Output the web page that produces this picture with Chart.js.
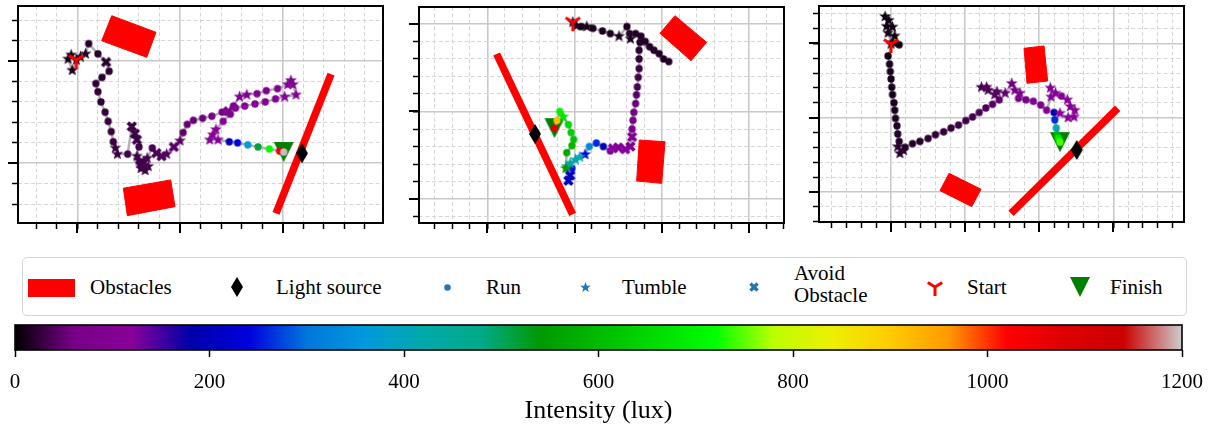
<!DOCTYPE html>
<html>
<head>
<meta charset="utf-8">
<script src="https://cdn.jsdelivr.net/npm/chart.js"></script>
<style>
  html, body { margin: 0; padding: 0; background: #fff; }
  #page { position: relative; width: 1209px; height: 429px; overflow: hidden; font-family: 'Liberation Serif', 'Times New Roman', serif; }
  #page canvas { position: absolute; }
  #legend { position: absolute; left: 22px; top: 257px; width: 1165px; height: 59px; border: 1.5px solid #d6d6d6; border-radius: 5px; box-sizing: border-box; background: #fff; }
  .lab { position: absolute; font-size: 21px; line-height: 24px; color: #000; white-space: nowrap; }
  .lab2 { line-height: 22px; }
  .swatch { position: absolute; background: #ff0000; }
</style>
</head>
<body>
<div id="page">
  <canvas id="p1"></canvas>
  <canvas id="p2"></canvas>
  <canvas id="p3"></canvas>
  <div id="legend"></div>
  <canvas id="cbar"></canvas>
</div>
<script>
// ---- data: run 1 (left panel) ----
const p1X = [-0.01,-0.06,-0.09,-0.05,0.03,0.08,0.11,0.20,0.28,0.31, 0.24,0.18,0.20,0.23,0.27,0.30,0.33,0.35,0.37,0.39,
  0.49,0.53,0.56,0.58,0.60,0.58,0.61,0.66,0.62,0.60,0.65,0.69,0.63,0.68, 0.73,0.77,0.82,0.87,0.94,1.00,1.03,1.07,1.13,1.22,
  1.31,1.41,1.47,1.52,1.58,1.65,1.75,1.84,1.95,2.05, 2.08,2.10,2.13,2.02,1.93,1.83,1.73,1.63,1.54,1.49,
  1.42,1.35,1.32,1.29,1.37,1.48,1.56,1.66,1.76,1.87, 1.97,2.01];
const p1Y = [1.01,1.06,1.02,0.91,1.04,1.07,1.17,1.07,0.99,0.90, 0.84,0.78,0.70,0.60,0.50,0.41,0.31,0.21,0.15,0.09,
  0.09,0.36,0.29,0.23,0.16,0.07,0.00,-0.07,-0.05,0.03,0.02,-0.03,-0.03,0.05, 0.15,0.10,0.07,0.09,0.16,0.22,0.30,0.38,0.42,0.44,
  0.46,0.50,0.51,0.56,0.65,0.67,0.68,0.71,0.73,0.77, 0.81,0.77,0.67,0.65,0.63,0.60,0.58,0.56,0.54,0.48,
  0.41,0.33,0.28,0.23,0.23,0.21,0.20,0.18,0.16,0.14, 0.12,0.11];
const p1Lux = [12,12,12,14,15,16,18,20,22,22, 22,24,24,25,26,27,28,28,28,28,
  30,30,30,30,32,32,32,32,32,32,32,33,32,34, 36,38,40,42,44,46,48,50,53,56,
  60,64,68,72,76,80,84,88,92,96, 100,102,104,105,106,108,108,110,110,112,
  114,116,118,118,120,190,240,360,515,715, 1060,1195];
// r = run, t = tumble, a = avoid obstacle
const p1Mode = 'ttttttrrar' + 'rrrrrrrrtt' + 'raaar' + 'ttttttttt' + 'raatatrrrr' + 'rrarttrrrt' + 'ttttrrrrrr' + 'rttttrrrrr' + 'rr';
const p1Obstacles = [
  [[0.335,1.443],[0.766,1.281],[0.676,1.036],[0.237,1.198]],
  [[0.448,-0.244],[0.909,-0.163],[0.951,-0.424],[0.487,-0.512]]
];
const p1Wall = [[1.935,-0.489],[2.471,0.873]];
const p1Light = [2.188,0.098];

// ---- data: run 2 (middle panel) ----
const p2X = [0.98,1.02,1.08,1.14,1.21,1.32,1.41,1.51,1.60,1.63, 1.64,1.70,1.76,1.81,1.86,1.91,1.97,2.02,2.08,1.75,
  1.74,1.74,1.74,1.73,1.72,1.71,1.70,1.68,1.67,1.66, 1.66,1.64,1.58,1.50,1.44,1.41,1.33,1.25,1.17,1.12,
  1.06,1.01,0.95,0.91,0.97,0.95,0.93,0.90,0.91,0.97, 0.99,0.96,0.93,0.87,0.83,0.80,0.77];
const p2Y = [2.02,1.98,1.97,1.97,1.95,1.92,1.89,1.86,1.97,1.89, 1.83,1.89,1.86,1.80,1.74,1.70,1.66,1.60,1.57,1.79,
  1.70,1.60,1.49,1.39,1.28,1.19,1.09,0.99,0.90,0.80, 0.71,0.60,0.57,0.59,0.58,0.55,0.60,0.64,0.60,0.51,
  0.48,0.45,0.41,0.37,0.35,0.27,0.21,0.35,0.53,0.61, 0.68,0.76,0.85,0.94,1.00,0.90,0.81];
const p2Lux = [12,12,12,14,14,15,15,16,16,16, 16,17,17,18,18,18,18,18,18,20,
  22,26,30,34,38,44,50,58,66,76, 90,100,108,114,118,125,190,262,330,245,
  410,420,440,450,250,220,200,540,560,590, 610,630,645,665,700,915,1080];
const p2Mode = 'ttrtrrrtrr' + 'trrrrrrrrr' + 'rrrrrrrrrr' + 'aaaaarrrrt' + 'ttttraatrr' + 'rrrtrrr';
const p2Obstacles = [
  [[2.151,2.095],[2.514,1.790],[2.335,1.581],[1.979,1.893]],
  [[1.742,0.674],[2.037,0.655],[1.999,0.179],[1.712,0.206]]
];
const p2Wall = [[0.107,1.657],[0.978,-0.175]];
const p2Light = [0.546,0.743];

// ---- data: run 3 (right panel) ----
const p3X = [0.00,-0.08,-0.03,-0.06,0.02,-0.04,0.05,0.11,0.03,-0.04, -0.02,-0.01,0.00,0.01,0.02,0.04,0.05,0.06,0.08,0.09,
  0.11,0.09,0.12,0.17,0.19,0.29,0.39,0.50,0.60,0.71, 0.81,0.91,1.01,1.10,1.19,1.28,1.37,1.46,1.40,1.31,
  1.22,1.29,1.43,1.54,1.63,1.67,1.74,1.72,1.82,1.92, 2.02,2.10,2.16,2.15,2.22,2.30,2.38,2.42,2.48,2.47,
  2.39,2.28,2.20,2.21,2.23,2.24,2.26,2.28];
const p3Y = [1.99,2.36,2.31,2.23,2.22,2.14,2.10,1.98,2.01,1.83, 1.72,1.62,1.52,1.41,1.31,1.20,1.10,0.99,0.89,0.78,
  0.68,0.61,0.52,0.56,0.60,0.65,0.68,0.72,0.77,0.81, 0.86,0.90,0.96,1.01,1.07,1.13,1.18,1.24,1.31,1.37,
  1.41,1.41,1.35,1.33,1.46,1.37,1.33,1.26,1.24,1.22, 1.17,1.10,1.28,1.40,1.33,1.29,1.24,1.15,1.10,1.01,
  1.00,1.06,1.07,0.97,0.86,0.77,0.72,0.67];
const p3Lux = [6,6,6,7,7,8,8,9,9,10, 10,11,11,12,12,13,14,15,16,17,
  18,20,20,20,18,18,20,22,24,26, 28,30,32,35,38,40,44,48,40,38,
  36,38,42,48,58,62,66,72,78,86, 94,100,104,108,110,112,114,116,118,120,
  118,120,185,262,410,580,690,742];
const p3Mode = 'tttttttrtr' + 'rrrrrrrrrr' + 'rtttrrrrrr' + 'rrrrrrrrtt' + 'tttttttrrr' + 'rrtttrtttt' + 'ttrrrrrr';
const p3Obstacles = [
  [[1.795,1.933],[2.065,1.964],[2.114,1.493],[1.835,1.462]],
  [[0.783,0.251],[1.215,0.036],[1.089,-0.197],[0.661,0.018]]
];
const p3Wall = [[1.619,-0.287],[3.059,1.126]];
const p3Light = [2.506,0.565];

// colour bar
const LUX_MAX = 1200;
const CB_TICKS = [0, 200, 400, 600, 800, 1000, 1200];

// nipy_spectral colormap nodes (21 evenly spaced stops)
const NIPY_R = [0,0.4667,0.5333,0,0,0,0,0,0,0,0,0,0,0.7333,0.9333,1,1,1,0.8667,0.8,0.8];
const NIPY_G = [0,0,0,0,0,0.4667,0.6,0.6667,0.6667,0.6,0.7333,0.8667,1,1,0.9333,0.8,0.6,0,0,0,0.8];
const NIPY_B = [0,0.5333,0.6,0.6667,0.8667,0.8667,0.8667,0.6667,0.5333,0,0,0,0,0,0,0,0,0,0,0,0.8];

const SERIF = "'Liberation Serif', 'Times New Roman', serif";
const TAB_BLUE = '#1f77b4';
const SIZE = { r: 7.3, t: 12.5, a: 10.5 };

function luxColor(lux) {
  const t = Math.min(Math.max(lux / LUX_MAX, 0), 1) * 20;
  const k = Math.min(Math.floor(t), 19), f = t - k;
  const ch = arr => Math.round((arr[k] + (arr[k + 1] - arr[k]) * f) * 255);
  return 'rgb(' + ch(NIPY_R) + ',' + ch(NIPY_G) + ',' + ch(NIPY_B) + ')';
}

// marker images (matplotlib-like shapes), cached per shape/colour/size
const markerCache = {};
function marker(shape, color, size) {
  const key = shape + '|' + color + '|' + size;
  if (markerCache[key]) return markerCache[key];
  const w = Math.ceil(size + 6);
  const cv = document.createElement('canvas');
  cv.width = w; cv.height = w;
  const g = cv.getContext('2d');
  g.translate(w / 2, w / 2);
  const r = size / 2;
  g.fillStyle = color;
  g.strokeStyle = color;
  g.beginPath();
  if (shape === 'r') {
    g.arc(0, 0, r, 0, Math.PI * 2);
    g.fill();
  } else if (shape === 't') {
    for (let k = 0; k < 10; k++) {
      const ang = -Math.PI / 2 + k * Math.PI / 5;
      const rr = k % 2 ? r * 0.42 : r;
      g.lineTo(Math.cos(ang) * rr, Math.sin(ang) * rr);
    }
    g.closePath(); g.fill();
  } else if (shape === 'a') {
    const pts = [[0.25,0],[0.5,0.25],[0.75,0],[1,0.25],[0.75,0.5],[1,0.75],[0.75,1],[0.5,0.75],[0.25,1],[0,0.75],[0.25,0.5],[0,0.25]];
    pts.forEach(([px, py]) => g.lineTo((px - 0.5) * size, (py - 0.5) * size));
    g.closePath(); g.fill();
  } else if (shape === 'start') {
    g.lineWidth = 3;
    g.moveTo(0, 0); g.lineTo(0, r);
    g.moveTo(0, 0); g.lineTo(0.8 * r, -0.5 * r);
    g.moveTo(0, 0); g.lineTo(-0.8 * r, -0.5 * r);
    g.stroke();
  } else if (shape === 'finish') {
    g.moveTo(0, r); g.lineTo(-r, -r); g.lineTo(r, -r); g.closePath(); g.fill();
  } else if (shape === 'light') {
    g.moveTo(0, -r); g.lineTo(0.6 * r, 0); g.lineTo(0, r); g.lineTo(-0.6 * r, 0); g.closePath(); g.fill();
  }
  markerCache[key] = cv;
  return cv;
}

const isMajor = v => Math.abs(v - Math.round(v)) < 1e-6;
function gridTicks(min, max) {
  const out = [];
  for (let k = Math.ceil(min / 0.2 - 1e-9); k * 0.2 <= max + 1e-9; k++) out.push({ value: +(k * 0.2).toFixed(2) });
  return out;
}

// frame + longer major tick marks
const frameDeco = {
  id: 'frameDeco',
  afterDraw(chart, args, opts) {
    const { ctx, chartArea: a } = chart;
    ctx.save();
    ctx.strokeStyle = '#000';
    if (opts.majorTicks) {
      const xs = chart.scales.x, ys = chart.scales.y;
      ctx.lineWidth = 2;
      ctx.beginPath();
      xs.ticks.forEach(t => {
        if (!isMajor(t.value)) return;
        const p = Math.round(xs.getPixelForValue(t.value));
        ctx.moveTo(p, a.bottom); ctx.lineTo(p, a.bottom + 10);
      });
      ys.ticks.forEach(t => {
        if (!isMajor(t.value)) return;
        const p = Math.round(ys.getPixelForValue(t.value));
        ctx.moveTo(a.left - 10, p); ctx.lineTo(a.left, p);
      });
      ctx.stroke();
    }
    ctx.lineWidth = opts.width || 2;
    ctx.strokeRect(a.left, a.top, a.right - a.left, a.bottom - a.top);
    ctx.restore();
  }
};

function axisOpts(pos, min, max, fix) {
  return {
    type: 'linear', position: pos, min, max,
    afterBuildTicks: s => { s.ticks = gridTicks(min, max); },
    afterFit: s => {
      if (pos === 'left') s.width = fix; else s.height = fix;
      s.paddingLeft = s.paddingRight = s.paddingTop = s.paddingBottom = 0;
    },
    ticks: { display: false, autoSkip: false },
    border: { display: false, dash: c => (c.tick && !isMajor(c.tick.value)) ? [4, 2.5] : [] },
    grid: {
      color: c => (c.tick && !isMajor(c.tick.value)) ? '#d6d6d6' : '#c9c9c9',
      lineWidth: c => (c.tick && !isMajor(c.tick.value)) ? 1 : 1.6,
      drawTicks: true, tickLength: 6, tickColor: '#000', tickWidth: 1.5
    }
  };
}

function drawPanel(p) {
  const cv = document.getElementById(p.id);
  cv.width = p.cv.w; cv.height = p.cv.h;
  cv.style.left = p.cv.x + 'px'; cv.style.top = p.cv.y + 'px';
  cv.style.width = p.cv.w + 'px'; cv.style.height = p.cv.h + 'px';
  const n = p.X.length;
  const ds = [];
  p.obs.forEach(poly => ds.push({
    type: 'line', data: poly.concat([poly[0]]).map(([x, y]) => ({ x, y })),
    fill: 'shape', backgroundColor: '#ff0000', borderColor: '#ff0000', borderWidth: 1,
    pointRadius: 0, tension: 0, order: 20
  }));
  ds.push({
    type: 'line', data: p.wall.map(([x, y]) => ({ x, y })), borderColor: '#ff0000',
    borderWidth: 7.5, borderCapStyle: 'butt', pointRadius: 0, fill: false, order: 19
  });
  ds.push({ type: 'scatter', data: [{ x: p.light[0], y: p.light[1] }], pointStyle: marker('light', '#000000', 20), pointRadius: 5, order: 18 });
  ds.push({ type: 'scatter', data: [{ x: p.X[n - 1], y: p.Y[n - 1] }], pointStyle: marker('finish', '#008000', 20), pointRadius: 5, order: 17 });
  ds.push({
    type: 'line', data: p.X.map((x, i) => ({ x, y: p.Y[i] })), borderColor: '#b4b4b4',
    borderWidth: 2.5, pointRadius: 0, fill: false, tension: 0, order: 16
  });
  ['r', 't', 'a'].forEach((m, k) => {
    const data = [];
    p.X.forEach((x, i) => { if (p.M[i] === m) data.push({ x, y: p.Y[i], lux: p.L[i] }); });
    ds.push({
      type: 'scatter', data, order: 15 - k, pointRadius: 3,
      pointStyle: c => marker(m, luxColor(c.raw ? c.raw.lux : 0), SIZE[m])
    });
  });
  ds.push({ type: 'scatter', data: [{ x: p.X[0], y: p.Y[0] }], pointStyle: marker('start', '#ff0000', 18), pointRadius: 5, order: 1 });

  new Chart(cv, {
    type: 'scatter',
    data: { datasets: ds },
    options: {
      responsive: false, animation: false, events: [], devicePixelRatio: 1,
      layout: { padding: { left: 0, top: p.box.t - p.cv.y, right: p.cv.x + p.cv.w - p.box.r, bottom: 0 } },
      plugins: { legend: { display: false }, tooltip: { enabled: false }, frameDeco: { majorTicks: true, width: 2 } },
      scales: {
        x: axisOpts('bottom', p.xr[0], p.xr[1], p.cv.y + p.cv.h - p.box.b),
        y: axisOpts('left', p.yr[0], p.yr[1], p.box.l - p.cv.x)
      }
    },
    plugins: [frameDeco]
  });
}

drawPanel({ id: 'p1', cv: { x: 0, y: 0, w: 400, h: 240 }, box: { l: 18, t: 6, r: 383, b: 223 },
  xr: [-0.578, 2.977], yr: [-0.584, 1.538], X: p1X, Y: p1Y, L: p1Lux, M: p1Mode, obs: p1Obstacles, wall: p1Wall, light: p1Light });
drawPanel({ id: 'p2', cv: { x: 402, y: 0, w: 400, h: 240 }, box: { l: 419, t: 7, r: 784, b: 223 },
  xr: [-0.783, 3.401], yr: [-0.274, 2.194], X: p2X, Y: p2Y, L: p2Lux, M: p2Mode, obs: p2Obstacles, wall: p2Wall, light: p2Light });
drawPanel({ id: 'p3', cv: { x: 804, y: 0, w: 405, h: 240 }, box: { l: 819, t: 6, r: 1184, b: 222 },
  xr: [-0.972, 3.954], yr: [-0.404, 2.502], X: p3X, Y: p3Y, L: p3Lux, M: p3Mode, obs: p3Obstacles, wall: p3Wall, light: p3Light });

// ---- legend ----
const page = document.getElementById('page');
function addIcon(cv, cx, cy) {
  const c = document.createElement('canvas');
  c.width = cv.width; c.height = cv.height;
  c.getContext('2d').drawImage(cv, 0, 0);
  c.style.left = (cx - cv.width / 2) + 'px';
  c.style.top = (cy - cv.height / 2) + 'px';
  page.appendChild(c);
}
function addLabel(html, x, top, two) {
  const d = document.createElement('div');
  d.className = two ? 'lab lab2' : 'lab';
  d.style.left = x + 'px'; d.style.top = top + 'px';
  d.innerHTML = html;
  page.appendChild(d);
}
const sw = document.createElement('div');
sw.className = 'swatch';
Object.assign(sw.style, { left: '28px', top: '279px', width: '47px', height: '18px' });
page.appendChild(sw);
addLabel('Obstacles', 90, 275);
addIcon(marker('light', '#000000', 20), 237, 287);
addLabel('Light source', 276, 275);
addIcon(marker('r', TAB_BLUE, 6.5), 447, 287);
addLabel('Run', 486, 275);
addIcon(marker('t', TAB_BLUE, 11), 585, 287);
addLabel('Tumble', 622, 275);
addIcon(marker('a', TAB_BLUE, 9.5), 754, 287);
addLabel('Avoid<br>Obstacle', 794, 262, true);
addIcon(marker('start', '#ff0000', 18), 935, 287);
addLabel('Start', 967, 275);
addIcon(marker('finish', '#008000', 20), 1080, 287);
addLabel('Finish', 1110, 275);

// ---- colour bar ----
function cbGradient(chart) {
  const a = chart.chartArea;
  if (!a) return '#888888';
  const xs = chart.scales.x;
  const g = chart.ctx.createLinearGradient(xs.getPixelForValue(0), 0, xs.getPixelForValue(LUX_MAX), 0);
  for (let k = 0; k <= 20; k++) {
    g.addColorStop(k / 20, 'rgb(' + Math.round(NIPY_R[k] * 255) + ',' + Math.round(NIPY_G[k] * 255) + ',' + Math.round(NIPY_B[k] * 255) + ')');
  }
  return g;
}
const cb = document.getElementById('cbar');
cb.width = 1209; cb.height = 111;
Object.assign(cb.style, { left: '0px', top: '318px', width: '1209px', height: '111px' });
new Chart(cb, {
  type: 'bar',
  data: { labels: ['lux'], datasets: [{ data: [[0, LUX_MAX]], backgroundColor: c => cbGradient(c.chart), borderWidth: 0, barPercentage: 1, categoryPercentage: 1 }] },
  options: {
    indexAxis: 'y', responsive: false, animation: false, events: [], devicePixelRatio: 1,
    layout: { padding: { left: 15, right: 27, top: 7, bottom: 0 } },
    plugins: { legend: { display: false }, tooltip: { enabled: false }, frameDeco: { majorTicks: false, width: 1.6 } },
    scales: {
      y: { display: false },
      x: {
        type: 'linear', position: 'bottom', min: 0, max: LUX_MAX,
        afterBuildTicks: s => { s.ticks = CB_TICKS.map(v => ({ value: v })); },
        afterFit: s => { s.height = 79; s.paddingLeft = 0; s.paddingRight = 0; },
        ticks: { color: '#000', font: { family: SERIF, size: 21 }, padding: 13, autoSkip: false, maxRotation: 0, callback: v => String(v) },
        grid: { drawOnChartArea: false, drawTicks: true, tickLength: 7, tickColor: '#000', tickWidth: 1.5 },
        border: { display: false },
        title: { display: true, text: 'Intensity (lux)', color: '#000', font: { family: SERIF, size: 26 }, padding: { top: 0, bottom: 2 } }
      }
    }
  },
  plugins: [frameDeco]
});
</script>
</body>
</html>
